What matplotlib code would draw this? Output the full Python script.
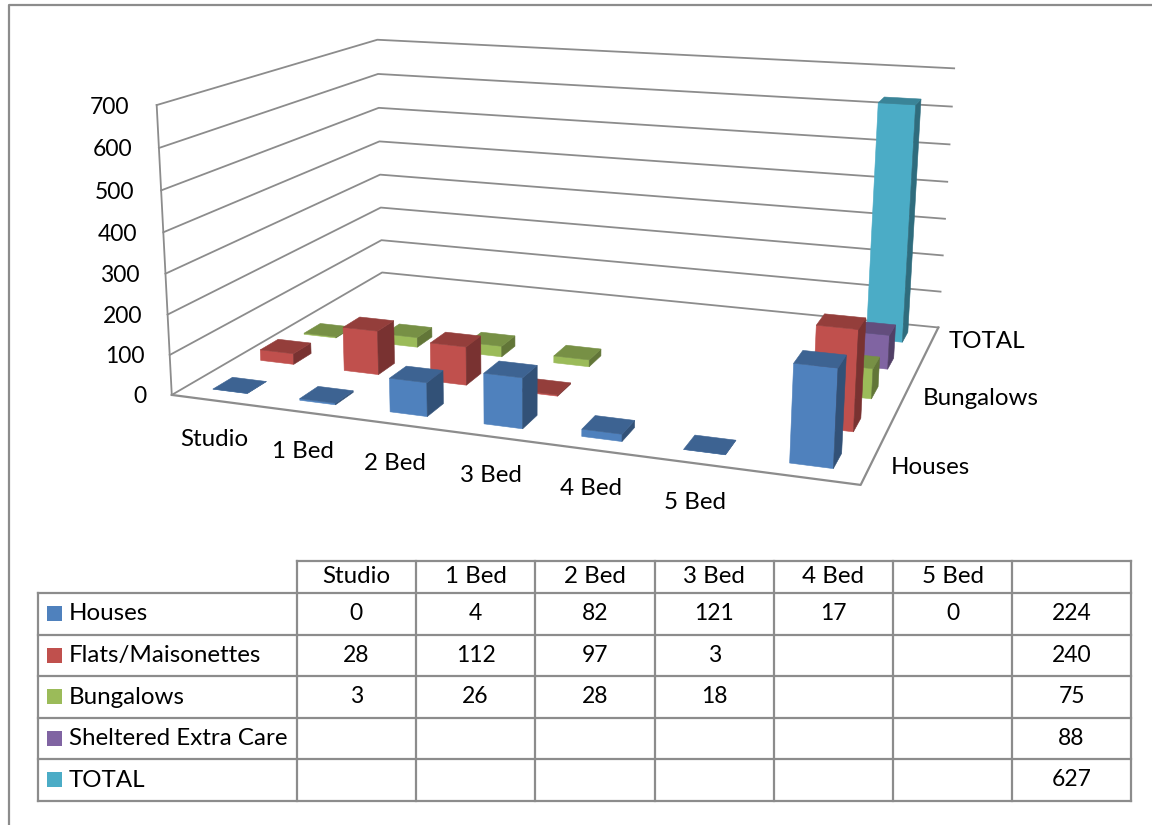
import numpy as np
import matplotlib
matplotlib.use('Agg')
import matplotlib.pyplot as plt
from matplotlib.colors import to_rgb

plt.rcParams['font.family'] = ['Lato', 'DejaVu Sans']

categories = ['Studio', '1 Bed', '2 Bed', '3 Bed', '4 Bed', '5 Bed', '']
series_names = ['Houses', 'Flats/Maisonettes', 'Bungalows', 'Sheltered Extra Care', 'TOTAL']
depth_labels = ['Houses', 'Bungalows', 'TOTAL']
y_ticks = [0, 100, 200, 300, 400, 500, 600, 700]

houses = [0, 4, 82, 121, 17, 0, 224]
flats = [28, 112, 97, 3, None, None, 240]
bungalows = [3, 26, 28, 18, None, None, 75]
sheltered = [None, None, None, None, None, None, 88]
total = [None, None, None, None, None, None, 627]
series = [houses, flats, bungalows, sheltered, total]
colors = ['#4F81BD', '#C0504D', '#9BBB59', '#8064A2', '#4BACC6']

GRID = '#8C8C8C'
WORD_SIZE = 17.4
NUM_SIZE = 16.5
N_X, N_Y, Z_MAX = len(categories), len(series), y_ticks[-1]

# camera for the 3-D box, solved from where its corners sit on the canvas
box_corners = [
    ((0, 0, 0), (173, 395)), ((1, 0, 0), (860, 486)),
    ((1, 1, 0), (939, 326)), ((0, 1, 0), (381, 273)),
    ((0, 0, 1), (156, 104)), ((0, 1, 1), (378, 40)),
    ((1, 1, 1), (954, 69)),
]


def solve_camera(pairs):
    rows = []
    for (x, y, z), (u, v) in pairs:
        rows.append([x, y, z, 1, 0, 0, 0, 0, -u*x, -u*y, -u*z, -u])
        rows.append([0, 0, 0, 0, x, y, z, 1, -v*x, -v*y, -v*z, -v])
    return np.linalg.svd(np.array(rows, dtype=float))[2][-1].reshape(3, 4)


camera = solve_camera(box_corners)


def project(x, y, z):
    p = camera @ np.array([x / N_X, y / N_Y, z / Z_MAX, 1.0])
    return p[0] / p[2], p[1] / p[2]


def shade(color, k):
    return tuple(c * k for c in to_rgb(color))


def draw_face(ax, corners, color):
    pts = [project(*c) for c in corners]
    ax.fill(*zip(*pts), facecolor=color, edgecolor=color, linewidth=0.4)


def draw_bar(ax, i, j, value, color, size=0.4):
    x0, x1 = i + 0.5 - size/2, i + 0.5 + size/2
    y0, y1 = j + 0.5 - size/2, j + 0.5 + size/2
    draw_face(ax, [(x0, y0, 0), (x1, y0, 0), (x1, y0, value), (x0, y0, value)], color)
    draw_face(ax, [(x1, y0, 0), (x1, y1, 0), (x1, y1, value), (x1, y0, value)], shade(color, 0.63))
    draw_face(ax, [(x0, y0, value), (x1, y0, value), (x1, y1, value), (x0, y1, value)], shade(color, 0.77))


fig = plt.figure(figsize=(11.52, 8.25), dpi=100)
ax = fig.add_axes([0, 0, 1, 1])
ax.set_xlim(0, 1152)
ax.set_ylim(825, 0)
ax.axis('off')

# outer chart frame
ax.plot([8.5, 8.5, 1152], [825, 5, 5], color=GRID, lw=1.6)

# walls and floor
for z in y_ticks:
    pts = [project(0, 0, z), project(0, N_Y, z), project(N_X, N_Y, z)]
    ax.plot(*zip(*pts), color=GRID, lw=1.3, zorder=1)
    px, py = project(0, 0, z)
    ax.text(px - 25 - 2 * z / Z_MAX, py + 2, str(z), ha='right', va='center', fontsize=NUM_SIZE, color='black')
ax.plot(*zip(project(0, 0, 0), project(0, 0, Z_MAX)), color=GRID, lw=1.3)
floor = [project(0, 0, 0), project(N_X, 0, 0), project(N_X, N_Y, 0)]
ax.plot(*zip(*floor), color=GRID, lw=1.6)

# bars, back row first so the front rows overlap them
for j in reversed(range(N_Y)):
    for i in range(N_X):
        if series[j][i] is not None:
            draw_bar(ax, i, j, series[j][i], colors[j])

# axis labels on the floor edges
for i, name in enumerate(categories[:-1]):
    px, py = project(i + 0.5, 0, 0)
    ax.text(px - 1, py + 39, name, ha='center', va='center', fontsize=WORD_SIZE, color='black')
for name, j in zip(depth_labels, [0, 2, 4]):
    px, py = project(N_X, j + 0.5, 0)
    ax.text(px + 20 - j * 0.8, py + 2, name, ha='left', va='center', fontsize=WORD_SIZE, color='black')

# data table below the plot
col_edges = [38, 296.5, 416, 535, 654.5, 774, 893, 1012, 1131]
row_edges = [560.5, 592.5, 634.5, 676, 717.5, 759, 800.5]
ax.plot([col_edges[1], col_edges[-1]], [row_edges[0]] * 2, color=GRID, lw=1.6)
for r in row_edges[1:]:
    ax.plot([col_edges[0], col_edges[-1]], [r, r], color=GRID, lw=1.6)
ax.plot([col_edges[0]] * 2, [row_edges[1], row_edges[-1]], color=GRID, lw=1.6)
for c in col_edges[1:]:
    ax.plot([c, c], [row_edges[0], row_edges[-1]], color=GRID, lw=1.6)

for i, name in enumerate(categories):
    cx = (col_edges[i + 1] + col_edges[i + 2]) / 2
    ax.text(cx, (row_edges[0] + row_edges[1]) / 2, name, ha='center', va='center', fontsize=WORD_SIZE, color='black')
for j, name in enumerate(series_names):
    cy = (row_edges[j + 1] + row_edges[j + 2]) / 2
    ax.fill_between([47, 62], cy - 7.5, cy + 7.5, color=colors[j], lw=0)
    ax.text(69, cy + 0.5, name, ha='left', va='center', fontsize=WORD_SIZE, color='black')
    for i, v in enumerate(series[j]):
        if v is not None:
            cx = (col_edges[i + 1] + col_edges[i + 2]) / 2
            ax.text(cx, cy, str(v), ha='center', va='center', fontsize=NUM_SIZE, color='black')

fig.savefig('out.png', dpi=100)
